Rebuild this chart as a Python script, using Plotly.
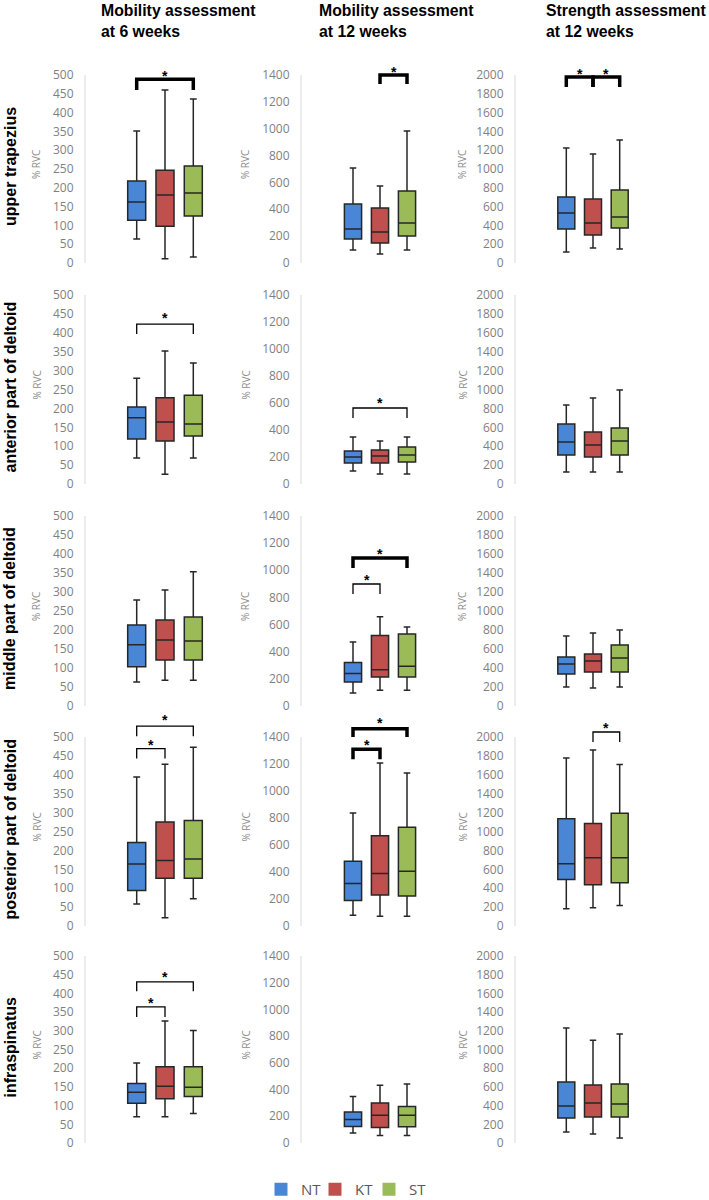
import plotly.graph_objects as go

# ---------------- data ----------------
groups = ["NT", "KT", "ST"]
muscles = ["upper trapezius", "anterior part of deltoid", "middle part of deltoid",
           "posterior part of deltoid", "infraspinatus"]
conditions = ["Mobility assessment<br>at 6 weeks", "Mobility assessment<br>at 12 weeks",
              "Strength assessment<br>at 12 weeks"]
axis_max = [500, 1400, 2000]
axis_step = [50, 200, 200]
y_title = "% RVC"

# five-number summaries per muscle: [lower whisker, Q1, median, Q3, upper whisker] (% RVC)
mob6_NT = [[64, 114, 162, 218, 351], [69, 119, 175, 204, 280], [63, 103, 161, 213, 279],
           [58, 94, 164, 221, 394], [70, 106, 136, 159, 214]]
mob6_KT = [[11, 98, 181, 247, 460], [26, 114, 164, 228, 352], [68, 121, 174, 226, 305],
           [22, 126, 173, 275, 428], [70, 118, 152, 204, 326]]
mob6_ST = [[16, 125, 186, 258, 436], [69, 127, 159, 235, 320], [68, 121, 171, 234, 353],
           [72, 126, 177, 279, 473], [79, 124, 149, 204, 301]]

mob12_NT = [[97, 179, 253, 439, 707], [96, 155, 200, 244, 348], [96, 177, 239, 320, 472],
            [79, 188, 314, 479, 837], [74, 123, 175, 232, 348]]
mob12_KT = [[67, 149, 231, 410, 573], [74, 155, 207, 252, 318], [116, 214, 268, 520, 657],
            [72, 230, 388, 669, 1207], [57, 116, 207, 299, 432]]
mob12_ST = [[97, 201, 298, 536, 983], [74, 163, 215, 274, 348], [116, 214, 293, 530, 583],
            [72, 222, 405, 731, 1133], [57, 121, 207, 274, 442]]

str12_NT = [[117, 362, 532, 702, 1223], [127, 307, 444, 635, 836], [200, 337, 442, 516, 737],
            [183, 493, 658, 1134, 1778], [118, 267, 396, 652, 1230]]
str12_KT = [[160, 298, 426, 681, 1160], [127, 286, 413, 550, 910], [189, 358, 474, 547, 768],
            [194, 437, 722, 1085, 1863], [96, 278, 428, 620, 1100]]
str12_ST = [[149, 372, 489, 777, 1308], [127, 307, 455, 593, 995], [200, 358, 505, 642, 800],
            [218, 458, 722, 1194, 1708], [53, 278, 417, 631, 1166]]

summaries = [
    {"NT": mob6_NT, "KT": mob6_KT, "ST": mob6_ST},
    {"NT": mob12_NT, "KT": mob12_KT, "ST": mob12_ST},
    {"NT": str12_NT, "KT": str12_KT, "ST": str12_ST},
]

# significance brackets: row, col, from group, to group, bracket top, leg end, bold, star height
sig_row = [0, 0, 0, 0, 1, 1, 2, 2, 3, 3, 3, 3, 3, 4, 4]
sig_col = [0, 1, 2, 2, 0, 1, 1, 1, 0, 0, 1, 1, 2, 0, 0]
sig_from = ["NT", "KT", "NT", "KT", "NT", "NT", "NT", "NT", "NT", "NT", "NT", "NT", "KT", "NT", "NT"]
sig_to = ["ST", "ST", "KT", "ST", "ST", "ST", "ST", "KT", "ST", "KT", "ST", "KT", "ST", "ST", "KT"]
sig_top = [489, 1400, 1979, 1979, 423, 563, 1090, 899, 529, 469, 1462, 1309, 2053, 431, 364]
sig_leg = [460, 1333, 1872, 1872, 397, 489, 1017, 825, 502, 443, 1400, 1235, 1947, 406, 337]
sig_bold = [True, True, True, True, False, False, True, False, False, False, True, True, False, False, False]
sig_star = [505, 1444, 2043, 2043, 447, 622, 1142, 951, 552, 488, 1528, 1363, 2123, 453, 382]

# ---------------- style / layout ----------------
colors = {"NT": "#4a86d6", "KT": "#c0504d", "ST": "#9bbb59"}
W, H = 709, 1200
col_px = [(85, 245), (301, 459), (515, 671)]
col_spacing = [28.3, 27.0, 26.7]
row_px = [(263, 75), (484, 295), (706, 516), (926, 737), (1143, 956)]  # (zero px, max-tick px)
headroom = 1.15
tick_font = dict(family="Open Sans, Liberation Sans, sans-serif", size=12, color="#7f7f7f")
bold_font = "Liberation Sans, Arial, sans-serif"

fig = go.Figure()
layout = {}
annotations = []
shapes = []

for r in range(5):
    for c in range(3):
        n = r * 3 + c + 1
        xs = "" if n == 1 else str(n)
        xref, yref = "x" + xs, "y" + xs
        y0p, ytp = row_px[r]
        ppu = (y0p - ytp) / axis_max[c]
        top_px = y0p - headroom * axis_max[c] * ppu
        x0p, x1p = col_px[c]
        half = (x1p - x0p) / (2 * col_spacing[c])
        layout["xaxis" + xs] = dict(
            domain=[x0p / W, x1p / W], anchor=yref, type="category",
            categoryorder="array", categoryarray=groups,
            range=[1 - half, 1 + half], visible=False, fixedrange=True)
        layout["yaxis" + xs] = dict(
            domain=[1 - y0p / H, 1 - top_px / H], anchor=xref,
            range=[0, headroom * axis_max[c]],
            tickvals=list(range(0, axis_max[c] + 1, axis_step[c])),
            showgrid=False, zeroline=False, showline=False,
            ticks="outside", ticklen=4, tickcolor="rgba(0,0,0,0)",
            ticklabelstandoff=4, tickfont=tick_font, fixedrange=True)
        # vertical axis line up to max tick
        shapes.append(dict(type="line", xref=xref + " domain", yref=yref,
                           x0=0, x1=0, y0=0, y1=axis_max[c],
                           line=dict(color="#d9d9d9", width=1)))
        data = summaries[c]
        for g in groups:
            lo, q1, med, q3, hi = data[g][r]
            fig.add_trace(go.Box(
                x=[g], q1=[q1], median=[med], q3=[q3], lowerfence=[lo], upperfence=[hi],
                fillcolor=colors[g], line=dict(color="#262626", width=1.5),
                whiskerwidth=0.38, boxpoints=False, showlegend=False,
                hoverinfo="skip", xaxis=xref, yaxis=yref))
        # % RVC axis title
        annotations.append(dict(
            text=y_title, xref="paper", yref="paper", textangle=-90,
            x=[36, 245, 462][c] / W, y=1 - ((y0p + ytp) / 2 - 4) / H,
            xanchor="center", yanchor="middle",
            showarrow=False, font=dict(family="Open Sans, sans-serif", size=10, color="#8c8c8c")))

# significance brackets
for i in range(len(sig_row)):
    n = sig_row[i] * 3 + sig_col[i] + 1
    xs = "" if n == 1 else str(n)
    fig.add_trace(go.Scatter(
        x=[sig_from[i], sig_from[i], sig_to[i], sig_to[i]],
        y=[sig_leg[i], sig_top[i], sig_top[i], sig_leg[i]],
        mode="lines", line=dict(color="black", width=3.5 if sig_bold[i] else 1.3),
        showlegend=False, hoverinfo="skip", xaxis="x" + xs, yaxis="y" + xs))
    mid = (groups.index(sig_from[i]) + groups.index(sig_to[i])) / 2
    annotations.append(dict(
        text="<b>*</b>", xref="x" + xs, yref="y" + xs, x=mid, y=sig_star[i],
        xanchor="center", yanchor="middle", yshift=-3, showarrow=False,
        font=dict(family=bold_font, size=14, color="black")))

# column titles
for c in range(3):
    annotations.append(dict(
        text="<b>" + conditions[c] + "</b>", xref="paper", yref="paper",
        x=[99, 317, 544][c] / W, y=1.0, xanchor="left", yanchor="top", align="left",
        showarrow=False, font=dict(family=bold_font, size=15.8, color="black")))

# row labels
for r in range(5):
    y0p, ytp = row_px[r]
    annotations.append(dict(
        text="<b>" + muscles[r] + "</b>", xref="paper", yref="paper", textangle=-90,
        x=10 / W, y=1 - ((y0p + ytp) / 2 - 2) / H, xanchor="center", yanchor="middle",
        showarrow=False, font=dict(family=bold_font, size=16, color="black")))

# legend entries (plus an empty spacer entry so the last label is not clipped)
for g in groups:
    fig.add_trace(go.Scatter(
        x=[None], y=[None], mode="markers", name=g,
        marker=dict(symbol="square", size=13, color=colors[g]),
        xaxis="x", yaxis="y"))
fig.add_trace(go.Scatter(
    x=[None], y=[None], mode="markers", name=" ",
    marker=dict(symbol="square", size=1, color="rgba(0,0,0,0)"),
    xaxis="x", yaxis="y"))

fig.update_layout(
    **layout,
    width=W, height=H, margin=dict(l=0, r=0, t=0, b=0, autoexpand=False),
    paper_bgcolor="white", plot_bgcolor="white",
    boxmode="overlay", boxgap=0.09,
    shapes=shapes, annotations=annotations,
    showlegend=True,
    legend=dict(orientation="h", x=261 / W, xanchor="left", y=-6 / H, yanchor="bottom",
                font=dict(family="Open Sans, sans-serif", size=15, color="#595959"),
                bgcolor="rgba(0,0,0,0)", itemwidth=30, entrywidth=9, tracegroupgap=0),
)

fig.write_html("out.html", config={"displayModeBar": False},
               post_script="document.body.style.margin='0';")
